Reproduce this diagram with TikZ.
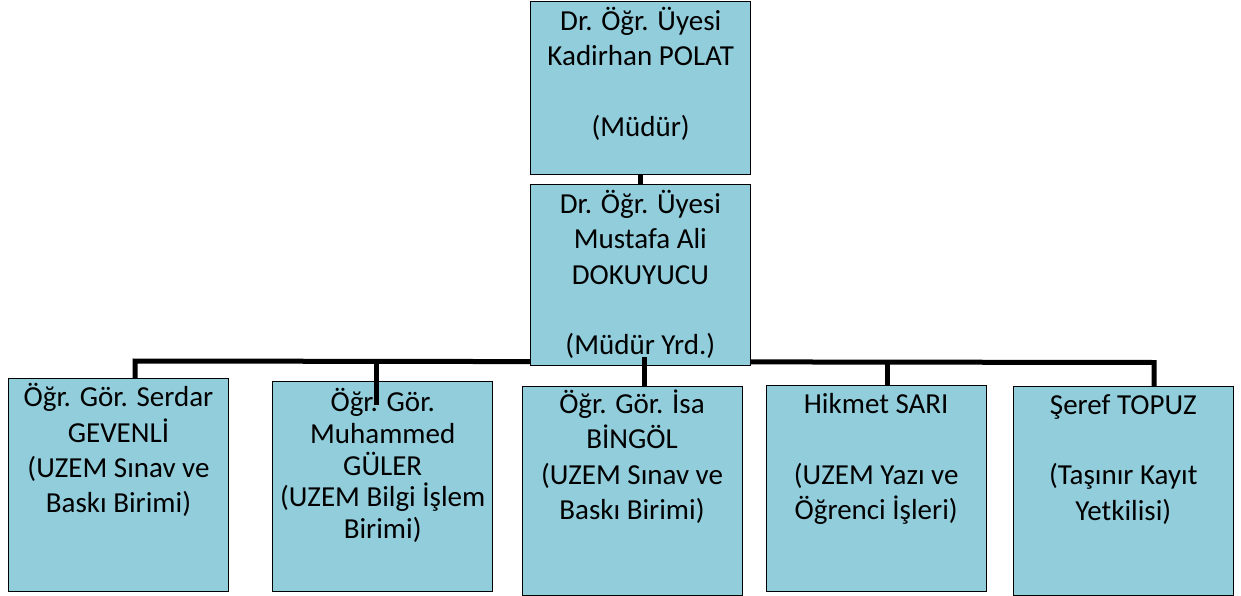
\documentclass[tikz,border=0pt]{standalone}
\usepackage{fontspec}
\setmainfont{Carlito}
\definecolor{boxfill}{HTML}{92CDDC}
\newcommand{\orgtext}[4][35.4pt]{\parbox[c][#2][t]{220pt}{\centering
  \fontsize{29pt}{#1}\selectfont\rule{0pt}{#3}#4}}

\begin{document}
\begin{tikzpicture}[y=1pt, x=1pt, yscale=-1, inner sep=0pt, outer sep=0pt,
  orgbox/.style={draw=black,fill=boxfill,line width=1pt},
  orgline/.style={draw=black,line join=miter,line cap=butt,line width=5pt}]
\useasboundingbox (0,0) rectangle (1241,596);
\coordinate (path3021) at (135.0,361.0);
\coordinate (path3023) at (376.7,361.5);
\coordinate (path3024) at (376.7,405.0);
\coordinate (path3025) at (644.0,357.0);
\coordinate (path3027) at (887.0,362.0);
\coordinate (path3029) at (1154.0,362.5);
\node[orgbox] (rect3011) at (118.5,485.0)
  {\orgtext{213.4pt}{28.4pt}{Öğr. Gör. Serdar\\GEVENLİ\\(UZEM Sınav ve\\Baskı Birimi)}};
\node[orgbox] (rect3019) at (1123.3,490.9)
  {\orgtext{208.3pt}{27.3pt}{Şeref TOPUZ\\[35.4pt](Taşınır Kayıt\\Yetkilisi)}};
\path[orgline] (path3021 |- rect3011.north) -- (path3021) -- (path3029)
  -- (path3029 |- rect3019.north);
\node[orgbox] (rect3001) at (640.7,87.9)
  {\orgtext{172.3pt}{28.3pt}{Dr. Öğr. Üyesi\\Kadirhan POLAT\\[35.4pt](Müdür)}};
\node[orgbox] (rect3003) at (640.4,274.7)
  {\orgtext{180.7pt}{29pt}{Dr. Öğr. Üyesi\\Mustafa Ali\\DOKUYUCU\\[35.4pt](Müdür Yrd.)}};
\node[orgbox] (rect3013) at (382.7,486.7)
  {\orgtext[31.7pt]{210pt}{30pt}{Öğr. Gör.\\Muhammed\\GÜLER\\(UZEM Bilgi İşlem\\Birimi)}};
\node[orgbox] (rect3015) at (632.0,490.5)
  {\orgtext{209pt}{27.3pt}{Öğr. Gör. İsa\\BİNGÖL\\(UZEM Sınav ve\\Baskı Birimi)}};
\node[orgbox] (rect3017) at (876.2,488.7)
  {\orgtext{206pt}{27.6pt}{Hikmet SARI\\[35.4pt](UZEM Yazı ve\\Öğrenci İşleri)}};
\path[orgline] (rect3001.south) -- (rect3001.south |- rect3003.north);
\path[orgline] (path3023) -- (path3024);
\path[orgline] (path3025) -- (path3025 |- rect3015.north);
\path[orgline] (path3027) -- (path3027 |- rect3017.north);

\end{tikzpicture}
\end{document}
